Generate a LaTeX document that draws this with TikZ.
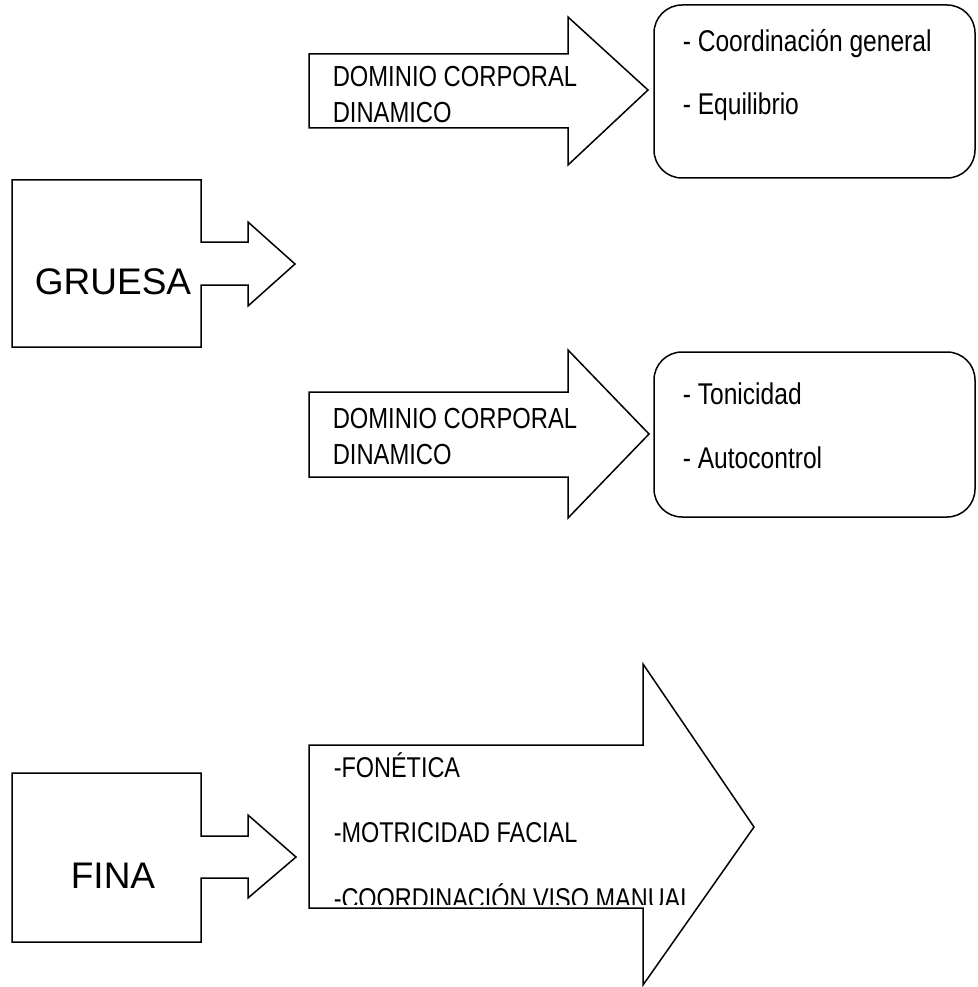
\documentclass[tikz,border=0pt]{standalone}
\usepackage{fontspec}
\setmainfont{Liberation Sans}
\newfontfamily\narrowsans{Liberation Sans}[FakeStretch=0.82]
\begin{document}
\begin{tikzpicture}[x=1pt,y=-1pt,line width=1.5pt,
    big/.style={anchor=base,inner sep=0pt,font=\fontsize{37}{44}\selectfont},
    dom/.style={anchor=base west,inner sep=0pt,font=\narrowsans\fontsize{29}{35}\selectfont},
    item/.style={anchor=base west,inner sep=0pt,font=\narrowsans\fontsize{30}{36}\selectfont},
    fitem/.style={anchor=base west,inner sep=0pt,font=\narrowsans\fontsize{28.6}{34}\selectfont}]
    \useasboundingbox (0,0) rectangle (977,987);
    % GRUESA
    \path[draw] (12,180) -- (201,180) -- (201,242) -- (248,242) -- (248,222)
                -- (295,264) -- (248,306) -- (248,285) -- (201,285)
                -- (201,347) -- (12,347) -- cycle;
    \node[big] (gruesa) at (113,294) {GRUESA};
    % upper arrows
    \path[draw] (309,54) -- (568,54) -- (568,17) -- (648,90) -- (568,165)
                -- (568,128) -- (309,128) -- cycle;
    \node[dom] (dom1a) at (332,87) {DOMINIO CORPORAL};
    \node[dom] (dom1b) at (332,123) {DINAMICO};
    \path[draw] (309,392) -- (568,392) -- (568,350) -- (649,434) -- (568,518)
                -- (568,477) -- (309,477) -- cycle;
    \node[dom] (dom2a) at (332,428) {DOMINIO CORPORAL};
    \node[dom] (dom2b) at (332,464) {DINAMICO};
    % lists
    \draw[rounded corners=28pt] (654,5) rectangle (975,178);
    \node[item] (coord) at (682,52) {- Coordinación general};
    \node[item] (equil) at (682,115) {- Equilibrio};
    \draw[rounded corners=28pt] (654,352) rectangle (975,517);
    \node[item] (tonic) at (682,404) {- Tonicidad};
    \node[item] (autoc) at (682,468) {- Autocontrol};
    % FINA
    \path[draw] (12,773) -- (201,773) -- (201,836) -- (248,836) -- (248,815)
                -- (296,857) -- (248,898) -- (248,878) -- (201,878)
                -- (201,942) -- (12,942) -- cycle;
    \node[big] (fina) at (113,888) {FINA};
    \path[draw] (309,745) -- (643,745) -- (643,664) -- (754,827) -- (643,985)
                -- (643,908) -- (309,908) -- cycle;
    \begin{scope}
      \clip (309,745) rectangle (760,904);
      \node[fitem] (fonet) at (333,777) {-FONÉTICA};
      \node[fitem] (motric) at (333,842) {-MOTRICIDAD FACIAL};
      \node[fitem] (vmanual) at (333,908) {-COORDINACIÓN VISO MANUAL};
    \end{scope}
\end{tikzpicture}
\end{document}
